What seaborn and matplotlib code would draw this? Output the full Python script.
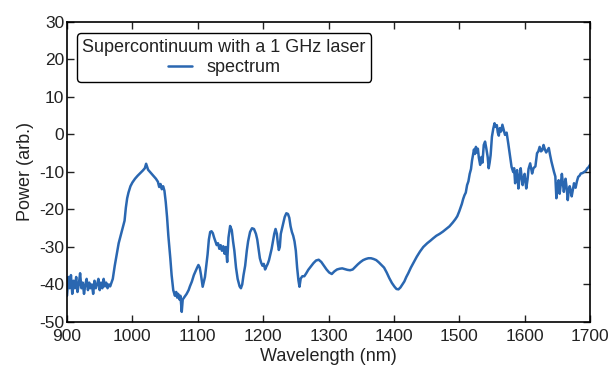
import numpy as np
import pandas as pd
import matplotlib
matplotlib.use("Agg")
import matplotlib.pyplot as plt
import seaborn as sns

# Measured supercontinuum spectrum (wavelength in nm, power in arb. dB units)
wavelength = [
    900, 902, 904, 906, 908, 910, 912, 914, 916, 918, 920, 922, 924, 926, 928,
    930, 932, 934, 936, 938, 940, 942, 944, 946, 948, 950, 952, 954, 956, 958,
    960, 962, 964, 966, 968,
    970, 973, 975, 977, 979, 982, 985, 988, 990, 992, 994, 997, 1000, 1004,
    1008, 1012, 1016, 1019, 1021, 1022.5, 1024, 1028, 1032, 1036, 1039, 1041,
    1043, 1045, 1047, 1049, 1051, 1053, 1055, 1058, 1060, 1062.5, 1065, 1067,
    1068.5, 1070, 1072, 1073.5, 1075.5, 1077, 1079, 1081, 1083, 1086, 1088,
    1091, 1094, 1097, 1099, 1101, 1103, 1105, 1107.5, 1109, 1111, 1113, 1115,
    1117, 1119, 1121, 1123, 1125, 1127, 1129, 1131, 1133, 1135, 1137, 1139,
    1141, 1143, 1145, 1147, 1149.5, 1152, 1154, 1156, 1158.5, 1161, 1164, 1166,
    1168, 1170, 1172.5, 1175, 1177, 1180, 1183, 1186, 1189, 1191, 1193, 1195,
    1197, 1199, 1201, 1203, 1205, 1207, 1209, 1211, 1213, 1215, 1217, 1219,
    1221, 1222.5, 1224, 1225.5, 1227, 1229, 1231, 1233, 1235.5, 1238, 1240,
    1242, 1244, 1246, 1248, 1250, 1252, 1254, 1255.6, 1257.5, 1260, 1263, 1266,
    1269, 1273, 1277, 1281, 1285, 1289, 1293, 1297, 1301, 1305, 1309, 1313,
    1317, 1321, 1325, 1329, 1333, 1337, 1341, 1345, 1349, 1353, 1357, 1361,
    1365, 1369, 1373, 1377, 1381, 1385, 1389, 1393, 1397, 1401, 1404, 1407,
    1410, 1413, 1416, 1419, 1422, 1426, 1430, 1435, 1440, 1445, 1451, 1456,
    1460, 1465, 1470, 1475, 1480, 1485, 1490, 1494, 1497, 1500, 1502, 1504,
    1506, 1508, 1510, 1512, 1514, 1516, 1518, 1519.5, 1521, 1522.5, 1524,
    1525.5, 1527, 1528.5, 1530, 1532, 1534, 1535.5, 1537.5, 1539.5, 1541.5,
    1543.5, 1545, 1546.5, 1548, 1550, 1552, 1554, 1556, 1557.5, 1559, 1560.5,
    1562, 1564, 1566, 1568, 1570, 1572.5, 1575, 1577.5, 1580, 1582.5, 1584,
    1585.5, 1587, 1588.5, 1590.5, 1592.5, 1594, 1595.5, 1597, 1598.5, 1600,
    1602.5, 1604.5, 1606, 1608.5, 1610, 1611.5, 1613.5, 1616.5, 1619, 1621,
    1623, 1625, 1627, 1629, 1631, 1633, 1635, 1637, 1639, 1641, 1643, 1645,
    1647, 1648.6, 1650, 1652, 1653.6, 1655.5, 1657, 1658.5, 1660, 1661.5,
    1662.6, 1664.5, 1666, 1667.5, 1669, 1670.5, 1672, 1674, 1675.6, 1677, 1678,
    1680, 1682, 1684, 1686, 1688.5, 1691, 1693.5, 1696, 1698, 1700,
]

power = [
    -43, -38, -41, -37.5, -42.5, -39, -41, -38, -42, -40, -37, -41, -39.5,
    -42.5, -40, -38.5, -41.5, -39.5, -41, -40, -42.5, -39, -41, -40, -38.5,
    -41.5, -39.5, -41, -38.5, -40.5, -39.5, -41, -40, -40.5, -39.5,
    -38.5, -35, -33, -31, -29, -27, -25, -23, -19.5, -17, -15.5, -13.8, -12.8,
    -11.8, -11, -10.3, -9.6, -9, -7.8, -8.6, -9.4, -10.2, -11, -11.8, -12.6,
    -14, -13.2, -14.6, -13.8, -15, -18, -22, -27, -33, -37.5, -41.5, -43, -42,
    -43.5, -42.5, -44, -43, -47.3, -44, -43.5, -43, -42.5, -41.5, -40.5,
    -39.2, -37.5, -36.3, -35.5, -34.8, -35.5, -37.5, -40.6, -39.5, -38, -35,
    -32, -28, -26, -25.8, -26.3, -27.5, -28.5, -29.5, -29, -30.5, -29.5, -31,
    -29.8, -31.8, -30, -34, -27.5, -24.4, -25.5, -28.5, -31, -35.5, -38.5,
    -40.5, -41, -40, -37.5, -35, -31, -28.5, -26, -25, -25.2, -26.5, -28,
    -30.5, -33, -34.2, -35, -34.5, -36, -35.2, -34.5, -33.5, -32, -30.5,
    -28.5, -26.5, -25.2, -26.5, -29, -30.8, -30, -26.5, -25, -23.5, -22, -21,
    -21.2, -22.2, -24.5, -26, -27, -28.5, -31, -35.5, -38.9, -40.6, -38.4,
    -37.8, -37.8, -37, -36.1, -35.2, -34.3, -33.6, -33.4, -34, -35, -36,
    -36.8, -37.2, -36.5, -36, -35.8, -35.7, -35.9, -36.1, -36.2, -36, -35.3,
    -34.6, -34, -33.5, -33.2, -33, -33, -33.2, -33.5, -34.1, -34.8, -35.5,
    -36.8, -38.3, -39.6, -40.6, -41.2, -41.3, -40.8, -40, -39.2, -38, -37,
    -35.5, -34.2, -32.6, -31.2, -30, -29, -28.3, -27.7, -27, -26.5, -25.9,
    -25.2, -24.5, -23.5, -22.6, -21.8, -20.5, -19.5, -18.5, -17.2, -16.2,
    -15.5, -13.5, -12.5, -10.5, -9.2, -7, -5.5, -4, -5.2, -3.3, -4.8, -3.8,
    -6.2, -8.1, -6, -7.5, -2.8, -1.9, -3.8, -6, -9, -7.5, -5.5, -0.6, 1.5, 3,
    2, 2.5, 0.5, -0.3, 1.7, 0.8, 2.6, 1.2, -0.1, 0.5, -2.4, -5.5, -8.6, -10,
    -9, -13, -10.5, -9.5, -14.4, -11, -9, -11.5, -13.5, -11.5, -10.5, -14.4,
    -12, -9.2, -7.7, -9, -10.4, -9, -8.5, -5, -4.5, -3.3, -4.5, -4.2, -2.8,
    -4, -4.8, -4.2, -3.6, -5.5, -7.2, -8.6, -10, -11.2, -17, -14, -12.2,
    -15.8, -13, -10.5, -13, -15.3, -13.5, -11.8, -14.5, -17.5, -15, -13.8,
    -15, -16.5, -14.5, -13, -14, -14.2, -12.5, -11.3, -11, -10.4, -10.3, -10,
    -9.7, -9, -8.7, -8.1,
]

x_ticks = [900, 1000, 1100, 1200, 1300, 1400, 1500, 1600, 1700]
y_ticks = [-50, -40, -30, -20, -10, 0, 10, 20, 30]

df = pd.DataFrame({"Wavelength (nm)": wavelength, "Power (arb.)": power})

sns.set_style("ticks")
plt.rcParams.update({
    "font.family": ["Liberation Sans", "DejaVu Sans"],
    "font.size": 12,
    "axes.unicode_minus": False,
    "xtick.direction": "in",
    "ytick.direction": "in",
    "xtick.top": True,
    "ytick.right": True,
    "xtick.major.size": 5,
    "ytick.major.size": 5,
    "xtick.major.width": 1.0,
    "ytick.major.width": 1.0,
    "axes.edgecolor": "black",
    "axes.linewidth": 1.2,
    "xtick.color": "#222222",
    "ytick.color": "#222222",
})

fig = plt.figure(figsize=(6.11, 3.69), dpi=100)
ax = fig.add_axes([0.1097, 0.1274, 0.8559, 0.813])

sns.lineplot(data=df, x="Wavelength (nm)", y="Power (arb.)", ax=ax,
             color="#2a67b1", linewidth=1.8, sort=False, estimator=None,
             label="spectrum")

ax.set_xlim(900, 1700)
ax.set_ylim(-50, 30)
ax.set_xticks(x_ticks)
ax.set_yticks(y_ticks)
ax.tick_params(labelsize=12.5, labelcolor="#222222")
ax.tick_params(axis="x", pad=5)
ax.tick_params(axis="y", pad=2)
ax.set_xlabel("Wavelength (nm)", fontsize=13, labelpad=3, color="#222222")
ax.set_ylabel("Power (arb.)", fontsize=13, labelpad=4, color="#222222")

leg = ax.legend(title="Supercontinuum with a 1 GHz laser", loc="upper left",
                bbox_to_anchor=(0.019, 0.963), borderaxespad=0,
                fontsize=13, title_fontsize=13,
                frameon=True, fancybox=True, framealpha=1, edgecolor="black",
                handlelength=1.3, borderpad=0.3, labelspacing=0.2)
leg.get_frame().set_linewidth(1.0)
leg.get_title().set_color("#222222")
for t in leg.get_texts():
    t.set_color("#222222")

fig.savefig("out.png", dpi=100)
